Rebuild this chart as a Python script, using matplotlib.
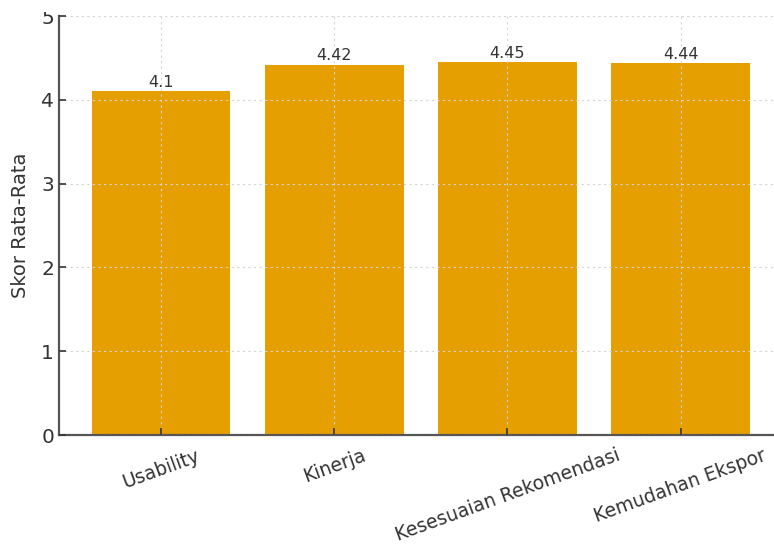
import matplotlib
matplotlib.use("Agg")
import matplotlib.pyplot as plt
from matplotlib.patches import Rectangle

# data
categories = ["Usability", "Kinerja", "Kesesuaian Rekomendasi", "Kemudahan Ekspor"]
scores = [4.1, 4.42, 4.45, 4.44]
yticks = [0, 1, 2, 3, 4, 5]

text_color = "#333333"
bar_color = "#E69F00"

fig = plt.figure(figsize=(7.74, 5.45), dpi=100)
# the reference is cropped on the top and right, so the axes run past the figure edge
ax = fig.add_axes([0.0762, 0.2018, 0.935, 0.7688])

bars = ax.bar(categories, scores, width=0.8, color=bar_color, zorder=1)
ax.bar_label(bars, labels=[str(s) for s in scores], padding=1,
             fontsize=11.5, color=text_color)

ax.set_ylim(0, 5)
ax.set_yticks(yticks)
ax.set_ylabel("Skor Rata-Rata", fontsize=14, color=text_color, labelpad=8)

ax.grid(True, linestyle=(0, (2, 3)), color="#d4d4d4", linewidth=0.8, zorder=2)
ax.set_axisbelow(False)

ax.tick_params(axis="both", direction="in", labelsize=14.5, colors=text_color,
               length=5, width=1.2)
ax.tick_params(axis="x", labelsize=13.5, pad=8)
for lbl in ax.get_xticklabels():
    lbl.set_rotation(20)
    lbl.set_ha("center")

for side in ["top", "right"]:
    ax.spines[side].set_visible(False)
for side in ["left", "bottom"]:
    ax.spines[side].set_color("#555555")
    ax.spines[side].set_linewidth(1.6)

# top strip of the reference is cut off (the "5" is clipped)
fig.patches.append(Rectangle((0, 1 - 12 / 545), 1, 12 / 545, transform=fig.transFigure,
                             facecolor="white", edgecolor="none", zorder=10))

fig.savefig("out.png", dpi=100)
